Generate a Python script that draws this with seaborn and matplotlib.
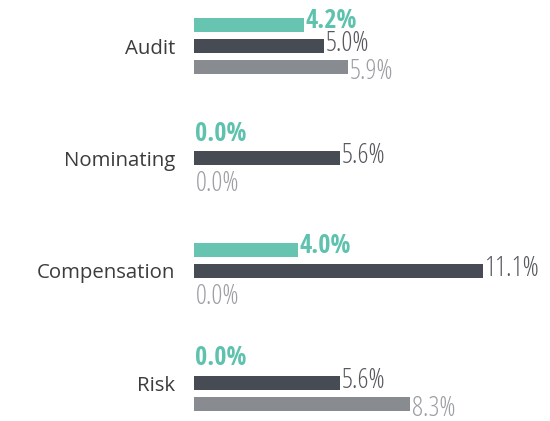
import matplotlib
matplotlib.use("Agg")
import matplotlib.pyplot as plt
from matplotlib import font_manager
from matplotlib.textpath import TextPath
import seaborn as sns
import pandas as pd
import os

# Committee categories and the three series shown for each
committees = ["Audit", "Nominating", "Compensation", "Risk"]
series = ["Company", "Peer median", "Peer average"]
company = [4.2, 0.0, 4.0, 0.0]
peer_median = [5.0, 5.6, 11.1, 5.6]
peer_average = [5.9, 0.0, 0.0, 8.3]

bar_colors = ["#66c4b1", "#474b53", "#888b8f"]
label_colors = ["#5fc2ae", "#55585e", "#9c9ea2"]

df = pd.DataFrame({
    "committee": committees * 3,
    "series": [s for s in series for _ in committees],
    "value": company + peer_median + peer_average,
})

sns.set_theme(style="white")


def _extent(fp, s):
    try:
        e = TextPath((0, 0), s, size=100, prop=fp).get_extents()
        return e.width, e.height
    except Exception:
        return None, None


# plain value labels: a light, narrow face from the common sans families
families = ("Open Sans", "Roboto", "Noto Sans", "Lato", "Inter",
            "Liberation Sans", "DejaVu Sans")
heavy = ("bold", "black", "heavy", "medium", "italic", "oblique")
best, best_score, best_h = None, None, None
for f in font_manager.fontManager.ttflist:
    b = os.path.basename(f.fname).lower()
    if not f.name.startswith(families) or "mono" in f.name.lower() or "CJK" in f.name:
        continue
    if any(k in b for k in heavy):
        continue
    fp = font_manager.FontProperties(fname=f.fname)
    w, _ = _extent(fp, "5.0%")
    _, h = _extent(fp, "0")
    if not w or not h:
        continue
    score = abs(w / h - 1.9) - (0.15 if "light" in b else 0.0)
    if best_score is None or score < best_score:
        best, best_score, best_h = fp, score, h
if best is None:
    best = font_manager.FontProperties(family="DejaVu Sans", stretch="condensed")
    best_h = 73.0
light_fp = best
# size giving ~20 px tall digits at 100 dpi
light_size = min(22.0, max(14.0, 20 * 100 / best_h * 0.72))

# highlighted labels: bold condensed face
bold_fp = None
for f in font_manager.fontManager.ttflist:
    b = os.path.basename(f.fname).lower()
    if (f.name == "Open Sans Condensed" and "bold" in b and "italic" not in b
            and "extrabold" not in b and "semibold" not in b):
        bold_fp = font_manager.FontProperties(fname=f.fname)
        break
if bold_fp is None:
    bold_fp = font_manager.FontProperties(family="DejaVu Sans", stretch="condensed",
                                          weight="bold")

plt.rcParams["font.family"] = ["Open Sans", "DejaVu Sans"]

fig = plt.figure(figsize=(5.5, 4.21), dpi=100)
ax = fig.add_axes([194 / 550, 0, 339 / 550, 1])

sns.barplot(data=df, y="committee", x="value", hue="series", orient="h",
            order=committees, hue_order=series, palette=bar_colors,
            width=0.5625, gap=0.333, saturation=1, legend=False, ax=ax,
            errorbar=None, linewidth=0)

ax.set_xlim(0, 13)
ax.set_ylim(3.338, -0.41)
ax.set_xlabel("")
ax.set_ylabel("")
ax.set_xticks([])
for s in ax.spines.values():
    s.set_visible(False)
ax.tick_params(axis="y", length=0, pad=13.7, labelsize=14.7, labelcolor="#3c3c3c")

# value labels next to each bar end
dy_px = [4, 2, -5]
for i, cont in enumerate(ax.containers):
    for patch, val in zip(cont.patches, [company, peer_median, peer_average][i]):
        yc = patch.get_y() + patch.get_height() / 2
        fp = (bold_fp if i == 0 else light_fp).copy()
        fp.set_size(19 if i == 0 else light_size)
        ax.annotate(f"{val:.1f}%", xy=(patch.get_width(), yc),
                    xytext=(1.5, dy_px[i]), textcoords="offset pixels",
                    ha="left", va="center", fontproperties=fp,
                    color=label_colors[i])

fig.savefig("out.png", dpi=100)
